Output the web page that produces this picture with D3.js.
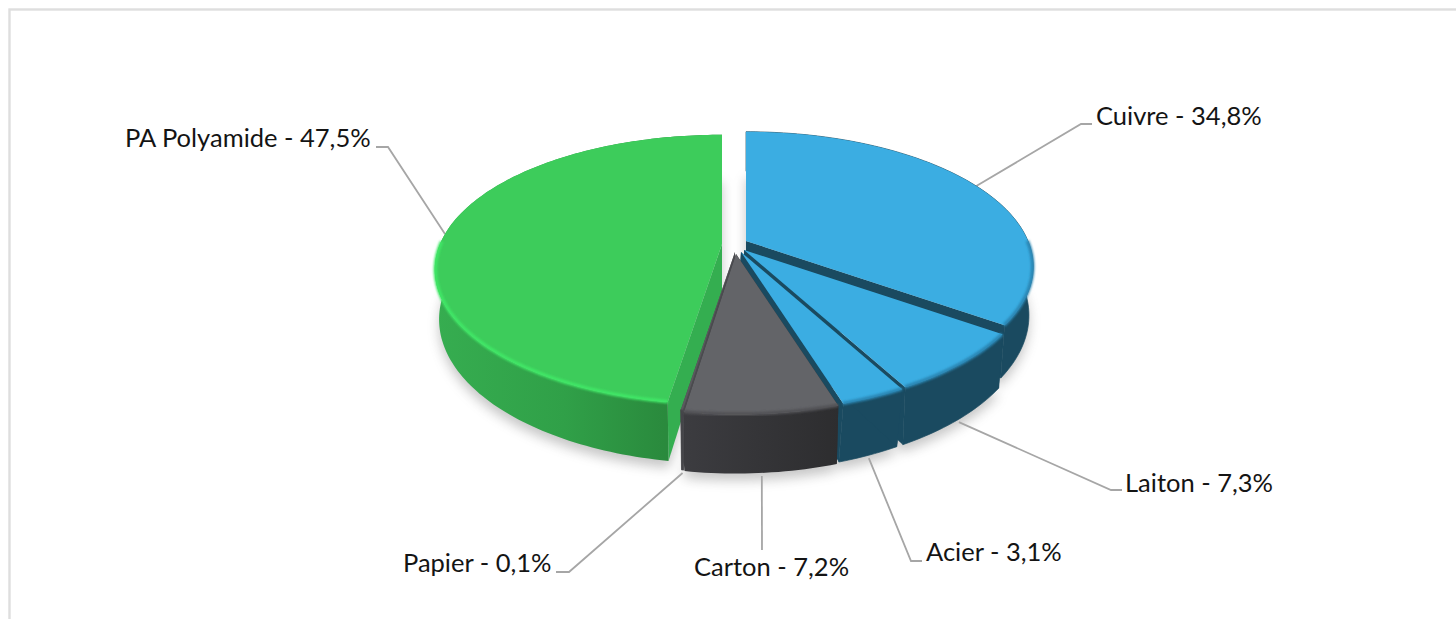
<!DOCTYPE html>
<html><head><meta charset="utf-8">
<script src="https://cdn.jsdelivr.net/npm/d3@7/dist/d3.min.js"></script>
<style>html,body{margin:0;padding:0;background:#fff;overflow:hidden}svg{display:block}text{font-family:Lato,"Liberation Sans",sans-serif;font-size:25.5px;fill:#141414}</style>
</head><body><svg id="c" width="1456" height="619"></svg>
<script>
const categories = ["Cuivre","Laiton","Acier","Carton","Papier","PA Polyamide"];
const percents = [34.8,7.3,3.1,7.2,0.1,47.5];
const percentLabels = ["34,8%","7,3%","3,1%","7,2%","0,1%","47,5%"];

// exploded slice apex on screen (top surface, and lower rim)
const apexX = [746,744,741,736,735,722];
const apexY = [241,250,252,254,252,244];
const lowX  = [746,744,738,736,735,722];
const lowY  = [241,251,253,255,254,245];
const topFill  = ["#3badE2","#3badE2","#3badE2","#636468","#5a5a5e","#3dcc5b"];
const rimFill  = ["#2a86b4","#2a86b4","#2a86b4","#515155","#4a4a4e","#41e766"];
const faceFill = ["#1a4a60","#1a4a60","#1a4a60","#2e2e31","#4b4b4f","#34ae50"];
// label layout: text left, text centre y, elbow x, elbow y, end x
const labelX = [1096,1125,926,694,403,125];
const labelY = [116,483,552,567,563,138];
const elbowX = [1081,1111,911,762,569,388];
const elbowY = [124,490,561,550,572,147];
const endX   = [1092,1122,922,762,556,376];

const svg = d3.select("#c");
const defs = svg.append("defs");
const addBlur=(id,s)=>defs.append("filter").attr("id",id).attr("x","-20%").attr("y","-20%").attr("width","140%").attr("height","140%")
  .append("feGaussianBlur").attr("stdDeviation",s);
addBlur("soft",6); addBlur("rim",1.3);
const grad=(id,stops)=>{const g=defs.append("linearGradient").attr("id",id).attr("gradientUnits","objectBoundingBox").attr("x1",0).attr("x2",1).attr("y1",0).attr("y2",0);
  stops.forEach(s=>g.append("stop").attr("offset",s[0]).attr("stop-color",s[1]));return `url(#${id})`;};
const greenWall=grad("gw",[[0,"#36ad50"],[.45,"#30a048"],[.8,"#2a8a3d"],[1,"#2a8a3d"]]);
const greyWall=grad("kw",[[0,"#3c3c40"],[1,"#2d2d2f"]]);
const wallFill=["#1a4a60","#1a4a60","#1a4a60",greyWall,"#454549",greenWall];

const RX=282, RY=130, K=0.19, H=47, SHRINK=0.985;
function proj(i,t,r,lower){
  const u=Math.sin(t)*r, v=-Math.cos(t)*r, d=1-K*v;
  const x=RX*u/d, y=RY*v/d;
  return lower ? [lowX[i]+x*SHRINK, lowY[i]+y+H/d] : [apexX[i]+x, apexY[i]+y];
}
const arcs=d3.pie().sort(null).value(d=>d).startAngle(0).endAngle(2*Math.PI)(percents);
const line=d3.line();
const samples=(a)=>{const n=Math.max(2,Math.ceil((a.endAngle-a.startAngle)/0.02));return d3.range(n+1).map(j=>a.startAngle+(a.endAngle-a.startAngle)*j/n);};

// frame
svg.append("rect").attr("x",9.5).attr("y",9.5).attr("width",1500).attr("height",700).attr("fill","#fff").attr("stroke","#dedede").attr("stroke-width",2.4);

// shadow
const sh=svg.append("g").attr("filter","url(#soft)").attr("opacity",.33).attr("transform","translate(0,7)");
arcs.forEach((a,i)=>{const ts=samples(a);
  sh.append("path").attr("fill","#555").attr("d",line([proj(i,0,0,true),...ts.map(t=>proj(i,t,1,true))])+"Z");});

// leaders below the pie
const mid=a=>(a.startAngle+a.endAngle)/2;
arcs.forEach((a,i)=>{
  const t=mid(a), low=-Math.cos(t)>0.3;
  const s=proj(i,t,1.0,low);
  svg.append("path").attr("fill","none").attr("stroke","#a6a6a6").attr("stroke-width",1.8)
    .attr("d",line([[s[0],s[1]+(low?3:0)],[elbowX[i],elbowY[i]],[endX[i],elbowY[i]]]));
});

// slice parts
function drawWall(i){
  const ts=samples(arcs[i]);
  const isFlat=wallFill[i].charAt(0)==="#";
  svg.append("path").attr("fill",wallFill[i]).attr("stroke",isFlat?wallFill[i]:"none").attr("stroke-width",.7)
    .attr("d",line([...ts.map(t=>proj(i,t,1,false)),...ts.slice().reverse().map(t=>proj(i,t,1,true))])+"Z");
}
function drawFaces(i){
  const a=arcs[i];
  [a.startAngle,a.endAngle].forEach(t=>{
    svg.append("path").attr("fill",faceFill[i]).attr("d",line([proj(i,t,0,false),proj(i,t,1,false),proj(i,t,1,true),proj(i,t,0,true)])+"Z");
  });
}
function drawTop(i){
  const ts=samples(arcs[i]);
  svg.append("path").attr("fill",topFill[i]).attr("d",line([proj(i,0,0,false),...ts.map(t=>proj(i,t,1,false))])+"Z");
  svg.append("path").attr("fill","none").attr("stroke",rimFill[i]).attr("stroke-width",3.5).attr("filter","url(#rim)")
    .attr("d",line(ts.filter(t=>-Math.cos(t)>-0.02).map(t=>proj(i,t,0.998,false))));
}
// painter order
drawFaces(0);drawWall(0);drawTop(0);
drawWall(2);
drawFaces(1);drawWall(1);drawTop(1);
drawFaces(2);drawTop(2);
[5,4,3].forEach(i=>{drawFaces(i);drawWall(i);drawTop(i);});

// labels
svg.append("g").selectAll("text").data(arcs).join("text")
  .attr("x",(d,i)=>labelX[i]).attr("y",(d,i)=>labelY[i]).attr("dy",".35em")
  .text((d,i)=>`${categories[i]} - ${percentLabels[i]}`);
</script></body></html>
